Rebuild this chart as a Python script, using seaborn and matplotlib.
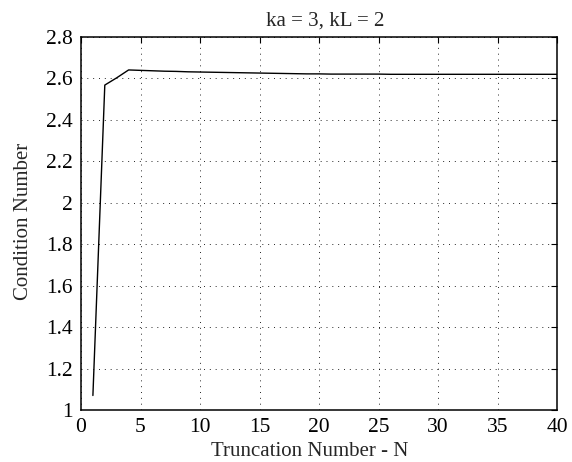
import numpy as np
import pandas as pd
import matplotlib
matplotlib.use("Agg")
import matplotlib.pyplot as plt
import seaborn as sns
from matplotlib.ticker import FuncFormatter

N = list(range(1, 41))
cond = [1.07, 2.568, 2.603, 2.641, 2.639, 2.637, 2.635, 2.634, 2.632, 2.631,
        2.630, 2.629, 2.628, 2.627, 2.626, 2.625, 2.624, 2.623, 2.622, 2.622,
        2.621, 2.621, 2.621, 2.621, 2.621, 2.620, 2.620, 2.620, 2.620, 2.620,
        2.620, 2.620, 2.620, 2.620, 2.620, 2.620, 2.620, 2.620, 2.620, 2.620]
title = "ka = 3, kL = 2"
xlabel = "Truncation Number - N"
ylabel = "Condition Number"
xticks = list(range(0, 41, 5))
yticks = [1.0, 1.2, 1.4, 1.6, 1.8, 2.0, 2.2, 2.4, 2.6, 2.8]

df = pd.DataFrame({"N": N, "cond": cond})

sns.set_style("white")
plt.rcParams['font.family'] = ['Liberation Serif', 'DejaVu Serif']

fig = plt.figure(figsize=(5.72, 4.62), dpi=100)
ax = fig.add_axes([81/572, 1 - 410/462, (557 - 81)/572, (410 - 37)/462])

sns.lineplot(data=df, x="N", y="cond", ax=ax, color="black", linewidth=1.0)

ax.set_xlim(0, 40)
ax.set_ylim(1, 2.8)
ax.set_xticks(xticks)
ax.set_yticks(yticks)
ax.yaxis.set_major_formatter(FuncFormatter(lambda v, p: f"{v:g}"))
ax.grid(True, linestyle=(0, (1, 5)), color="black", linewidth=0.7, alpha=0.85)
for s in ax.spines.values():
    s.set_color("black")
    s.set_linewidth(1.1)
    s.set_visible(True)
ax.tick_params(direction="in", length=4, width=0.8, top=True, right=True,
               labelsize=15.5, colors="black", pad=6)
ax.set_title(title, fontsize=15, pad=8, x=0.513)
ax.set_xlabel(xlabel, fontsize=15, labelpad=3, x=0.481)
ax.set_ylabel(ylabel, fontsize=15, labelpad=9, y=0.505)

fig.savefig("out.png", dpi=100)
